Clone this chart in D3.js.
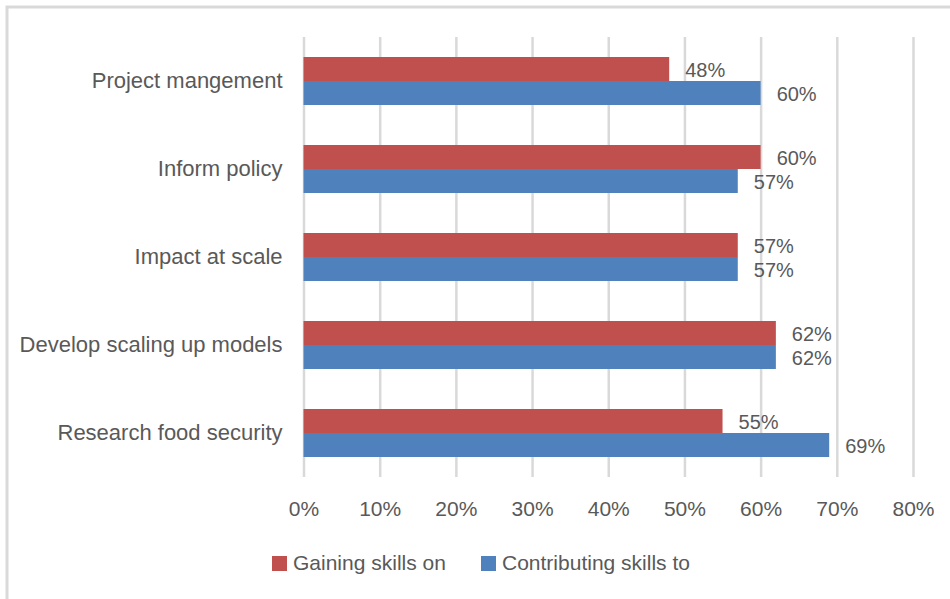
<!DOCTYPE html>
<html>
<head>
<meta charset="utf-8">
<script src="https://cdn.jsdelivr.net/npm/d3@7/dist/d3.min.js"></script>
<style>
  body { margin: 0; background: #ffffff; }
  svg text { font-family: "Liberation Sans", Arial, sans-serif; fill: #595959; }
</style>
</head>
<body>
<svg id="skillsChart"></svg>
<script>
/* Chart data */
let categories = [
    "Project mangement",
    "Inform policy",
    "Impact at scale",
    "Develop scaling up models",
    "Research food security"
]
let gainingValues = [48, 60, 57, 62, 55]
let contributingValues = [60, 57, 57, 62, 69]
let seriesNames = ["Gaining skills on", "Contributing skills to"]
let xTickValues = [0, 10, 20, 30, 40, 50, 60, 70, 80]

let svgWidth = 950;
let svgHeight = 599;

/* Plot area bounds */
let plotArea = {
    left: 303.5,
    right: 913,
    top: 37,
    bottom: 477
}

let seriesColors = ["#c0504d", "#4f81bd"];

let svg = d3.select("svg#skillsChart")
    .attr("width", svgWidth)
    .attr("height", svgHeight);

/* Outer frame (only top and left edges show in the picture) */
svg.append("path")
    .attr("d", "M7," + svgHeight + "V7H" + svgWidth)
    .attr("fill", "none")
    .attr("stroke", "#d9d9d9")
    .attr("stroke-width", 3);

let xScale = d3.scaleLinear()
    .domain([0, 80])
    .range([plotArea.left, plotArea.right]);

let yScale = d3.scaleBand()
    .domain(categories)
    .range([plotArea.top, plotArea.bottom])
    .paddingInner(40 / 88)
    .paddingOuter(20 / 88);

let subScale = d3.scaleBand()
    .domain([0, 1])
    .range([0, yScale.bandwidth()]);

/* Gridlines + tick labels */
let xAxis = d3.axisBottom(xScale)
    .tickValues(xTickValues)
    .tickSize(-(plotArea.bottom - plotArea.top))
    .tickFormat(d => d + "%");

let xAxisGroup = svg.append("g")
    .attr("transform", "translate(0," + plotArea.bottom + ")")
    .call(xAxis);

xAxisGroup.select("path.domain").remove();
xAxisGroup.selectAll(".tick line")
    .attr("stroke", "#d9d9d9")
    .attr("stroke-width", 2.5);
xAxisGroup.selectAll(".tick text")
    .attr("y", 39)
    .attr("dy", 0)
    .style("font-size", "21px")
    .style("font-family", null)
    .attr("fill", null);

/* Category labels */
let yAxis = d3.axisLeft(yScale)
    .tickSize(0)
    .tickPadding(21);

let yAxisGroup = svg.append("g")
    .attr("transform", "translate(" + plotArea.left + ",0)")
    .call(yAxis);

yAxisGroup.select("path.domain").remove();
yAxisGroup.selectAll(".tick text")
    .style("font-size", "22px")
    .attr("fill", null);
yAxisGroup.attr("font-family", null);
xAxisGroup.attr("font-family", null);

/* Bars */
let seriesValues = [gainingValues, contributingValues];

seriesValues.forEach((values, seriesIndex) => {
    let group = svg.append("g").attr("class", "series-" + seriesIndex);

    group.selectAll("rect")
        .data(values)
        .enter()
        .append("rect")
        .attr("x", xScale(0))
        .attr("y", (d, i) => yScale(categories[i]) + subScale(seriesIndex))
        .attr("width", d => xScale(d) - xScale(0))
        .attr("height", subScale.bandwidth())
        .attr("fill", seriesColors[seriesIndex]);

    group.selectAll("text")
        .data(values)
        .enter()
        .append("text")
        .attr("x", d => xScale(d) + 16)
        .attr("y", (d, i) => yScale(categories[i]) + subScale(seriesIndex) + subScale.bandwidth() / 2 + 1)
        .attr("dy", "0.36em")
        .style("font-size", "20px")
        .text(d => d + "%");
});

/* Legend */
let legendItems = [
    { x: 272, textX: 293 },
    { x: 481, textX: 502 }
]

seriesNames.forEach((name, index) => {
    let item = svg.append("g").attr("class", "legend-item");
    item.append("rect")
        .attr("x", legendItems[index].x)
        .attr("y", 556)
        .attr("width", 15)
        .attr("height", 15)
        .attr("fill", seriesColors[index]);
    item.append("text")
        .attr("x", legendItems[index].textX)
        .attr("y", 570)
        .style("font-size", "21px")
        .text(name);
});
</script>
</body>
</html>
